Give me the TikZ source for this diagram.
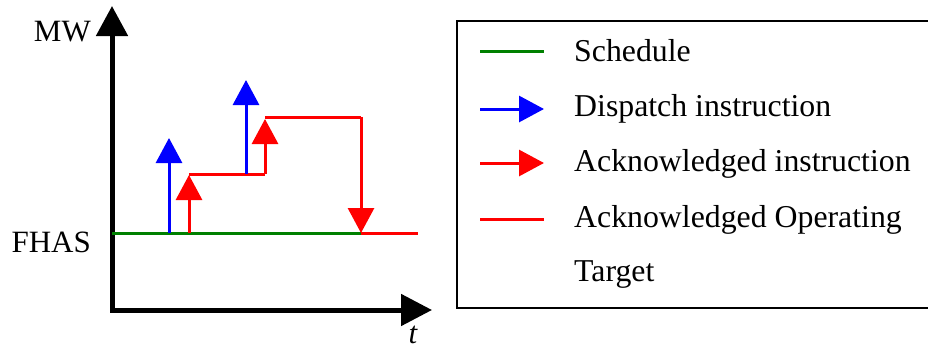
\documentclass[tikz,border=0pt]{standalone}
\usepackage{fontspec}
\setmainfont{Liberation Serif}
\usetikzlibrary{arrows.meta}
\definecolor{schedgreen}{RGB}{0,128,0}
\definecolor{ackred}{RGB}{255,0,0}
\definecolor{dispblue}{RGB}{0,0,255}
\tikzset{
  axisline/.style={line width=5pt, line join=miter,
    {Triangle[length=30pt,width=31pt]}-{Triangle[length=31pt,width=31pt]}},
  trace/.style={line width=3pt},
  instr/.style={line width=3pt, -{Triangle[length=25pt,width=26pt]}},
  lbl/.style={inner sep=0pt, font=\fontsize{31}{36}\selectfont},
  keylbl/.style={inner sep=0pt, font=\fontsize{31.8}{36}\selectfont, anchor=base west},
  legendbox/.style={line width=2pt},
}
\begin{document}
\begin{tikzpicture}[x=1pt,y=-1pt]
\useasboundingbox (0,0) rectangle (928,348);
\clip (0,0) rectangle (928,348);

% axes
\coordinate (ytop) at (112,6);
\coordinate (origin) at (112,310);
\coordinate (xend) at (432,310);
\draw[axisline] (ytop) -- (origin) -- (xend);
\node[lbl, anchor=base east] (mw) at (91,41) {MW};
\node[lbl, anchor=base east] (fhas) at (91,252) {FHAS};
\node[lbl, anchor=base] (t) at (413,343) {\itshape t};

% schedule level
\coordinate (s0) at (112,233);
\coordinate (s1) at (362,233);
\draw[trace, schedgreen] (s0) -- (s1);

% acknowledged operating target
\coordinate (a0) at (189,233);
\coordinate (a1) at (189,175);
\coordinate (a2) at (189,174);
\coordinate (a3) at (265,174);
\coordinate (a4) at (265,119);
\coordinate (a5) at (265,117);
\coordinate (a6) at (361,117);
\coordinate (a7) at (361,233);
\coordinate (a8) at (418,233);
\draw[trace, ackred] (a2) -- (a3);
\draw[trace, ackred] (a5) -- (a6);
\draw[trace, ackred] (a7) -- (a8);

% dispatch instructions
\coordinate (d1a) at (169,233);
\coordinate (d1b) at (169,138);
\coordinate (d2a) at (246,174);
\coordinate (d2b) at (246,80);
\draw[instr, dispblue] (d1a) -- (d1b);
\draw[instr, dispblue] (d2a) -- (d2b);

% acknowledged instructions
\draw[instr, ackred] (a0) -- (a1);
\draw[instr, ackred] (a3) -- (a4);
\draw[instr, ackred] (a6) -- (a7);

% legend
\coordinate (bx0) at (940,21);
\coordinate (bx1) at (457,21);
\coordinate (bx2) at (457,308);
\coordinate (bx3) at (940,308);
\draw[legendbox] (bx0) -- (bx1) -- (bx2) -- (bx3);

\coordinate (k1a) at (480,51);  \coordinate (k1b) at (544,51);
\coordinate (k2a) at (480,109); \coordinate (k2b) at (544,109);
\coordinate (k3a) at (480,163); \coordinate (k3b) at (544,163);
\coordinate (k4a) at (480,219); \coordinate (k4b) at (544,219);
\draw[trace, schedgreen] (k1a) -- (k1b);
\draw[instr, dispblue] (k2a) -- (k2b);
\draw[instr, ackred] (k3a) -- (k3b);
\draw[trace, ackred] (k4a) -- (k4b);

\node[keylbl] (l1) at (574,61.5) {Schedule};
\node[keylbl] (l2) at (574,116.5) {Dispatch instruction};
\node[keylbl] (l3) at (574,171.5) {Acknowledged instruction};
\node[keylbl] (l4) at (574,227) {Acknowledged Operating};
\node[keylbl] (l5) at (574,281.5) {Target};
\end{tikzpicture}
\end{document}
